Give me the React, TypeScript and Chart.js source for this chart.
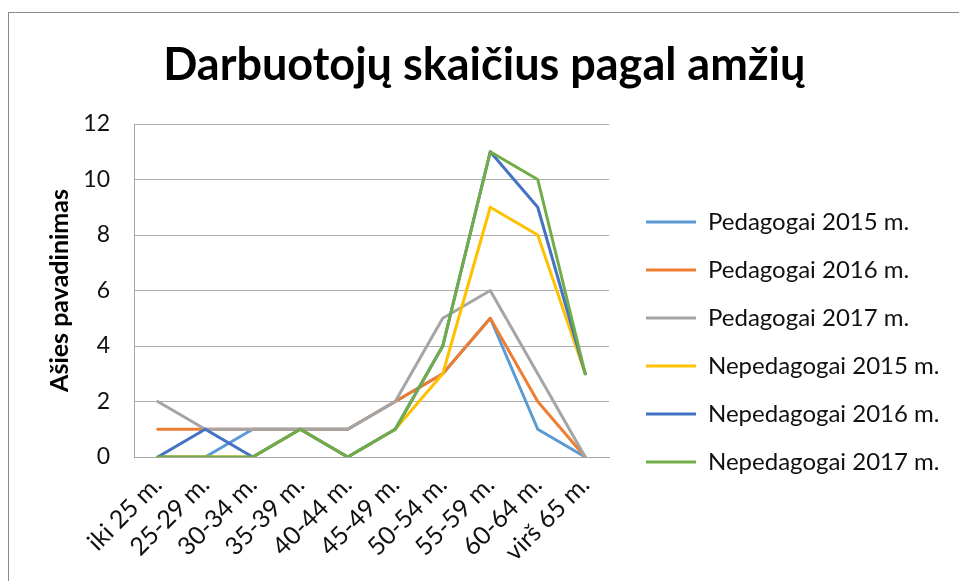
import React, { useEffect, useRef } from 'react';
import { Chart, registerables } from 'chart.js';

Chart.register(...registerables);

const categories = ['iki 25 m.', '25-29 m.', '30-34 m.', '35-39 m.', '40-44 m.', '45-49 m.', '50-54 m.', '55-59 m.', '60-64 m.', 'virš 65 m.'];
const seriesNames = ['Pedagogai 2015 m.', 'Pedagogai 2016 m.', 'Pedagogai 2017 m.', 'Nepedagogai 2015 m.', 'Nepedagogai 2016 m.', 'Nepedagogai 2017 m.'];
const pedagogai2015 = [0, 0, 1, 1, 1, 2, 3, 5, 1, 0];
const pedagogai2016 = [1, 1, 1, 1, 1, 2, 3, 5, 2, 0];
const pedagogai2017 = [2, 1, 1, 1, 1, 2, 5, 6, 3, 0];
const nepedagogai2015 = [0, 0, 0, 1, 0, 1, 3, 9, 8, 3];
const nepedagogai2016 = [0, 1, 0, 1, 0, 1, 4, 11, 9, 3];
const nepedagogai2017 = [0, 0, 0, 1, 0, 1, 4, 11, 10, 3];
const seriesColors = ['#5B9BD5', '#ED7D31', '#A5A5A5', '#FFC000', '#4472C4', '#70AD47'];
const yMin = 0;
const yMax = 12;
const yStep = 2;
const chartTitle = 'Darbuotojų skaičius pagal amžių';
const yAxisTitle = 'Ašies pavadinimas';

const W = 959;
const H = 581;
const FONT = 'Lato';
const LEGEND_SIZE = 24;
const TEXT_COLOR = '#111';

export default function App() {
  const ref = useRef<HTMLCanvasElement | null>(null);

  useEffect(() => {
    const canvas = ref.current;
    if (!canvas) return;
    const allSeries = [pedagogai2015, pedagogai2016, pedagogai2017, nepedagogai2015, nepedagogai2016, nepedagogai2017];

    const mctx = document.createElement('canvas').getContext('2d')!;
    mctx.font = `${LEGEND_SIZE}px ${FONT}`;
    const maxText = Math.max(...seriesNames.map((s) => mctx.measureText(s).width));
    const legendPad = 24;
    const boxW = 50;
    const legendWidth = legendPad + boxW + LEGEND_SIZE / 2 + maxText + 10;
    const spacer = 13;
    const plotRight = 609;
    const padRight = Math.max(0, W - plotRight - spacer - legendWidth);

    const chart = new Chart(canvas, {
      type: 'line',
      data: {
        labels: categories,
        datasets: allSeries.map((d, i) => ({
          label: seriesNames[i],
          data: d,
          borderColor: seriesColors[i],
          backgroundColor: seriesColors[i],
          borderWidth: 3,
          pointRadius: 0,
          pointHoverRadius: 0,
          tension: 0,
          fill: false,
          borderJoinStyle: 'round' as const,
          borderCapStyle: 'round' as const,
          order: allSeries.length - i,
          yAxisID: 'y',
        })),
      },
      options: {
        responsive: false,
        animation: false,
        layout: { padding: { left: 19, right: padRight, top: 0, bottom: 0 } },
        plugins: {
          title: {
            display: true,
            text: chartTitle,
            color: '#000',
            font: { family: FONT, size: 45, weight: 'bold' },
            padding: { top: 38, bottom: 32 },
          },
          legend: {
            position: 'right',
            align: 'start',
            maxWidth: 420,
            title: { display: true, text: '', font: { size: 10, lineHeight: 1 }, padding: { top: 176, bottom: 0 } },
            labels: {
              boxWidth: boxW,
              boxHeight: 3,
              padding: legendPad,
              color: TEXT_COLOR,
              font: { family: FONT, size: LEGEND_SIZE },
              sort: (a: any, b: any) => a.datasetIndex - b.datasetIndex,
              generateLabels: (c: any) =>
                c.data.datasets.map((ds: any, i: number) => ({
                  text: ds.label,
                  fillStyle: ds.borderColor,
                  strokeStyle: ds.borderColor,
                  fontColor: TEXT_COLOR,
                  lineWidth: 0,
                  hidden: false,
                  datasetIndex: i,
                })),
            },
          },
          tooltip: { enabled: false },
        },
        scales: {
          x: {
            type: 'category',
            offset: true,
            grid: { display: false, drawTicks: false },
            border: { display: true, color: '#a6a6a6', width: 1 },
            ticks: {
              autoSkip: false,
              minRotation: 45,
              maxRotation: 45,
              padding: 13,
              color: TEXT_COLOR,
              font: { family: FONT, size: 25 },
            },
            afterFit: (s: any) => {
              s.height = H - 457;
            },
          },
          y: {
            type: 'linear',
            position: 'left',
            min: yMin,
            max: yMax,
            grid: { color: '#adadad', lineWidth: 1, drawTicks: false },
            border: { display: true, color: '#a6a6a6', width: 1 },
            ticks: {
              stepSize: yStep,
              padding: 24,
              color: TEXT_COLOR,
              font: { family: FONT, size: 23 },
            },
            title: {
              display: true,
              text: yAxisTitle,
              color: '#000',
              font: { family: FONT, size: 25, weight: 'bold' },
              padding: { top: 26, bottom: 0 },
            },
            afterFit: (s: any) => {
              s.width = 134 - 19;
            },
          },
          spacer: {
            type: 'linear',
            position: 'right',
            display: true,
            grid: { display: false, drawTicks: false },
            border: { display: false },
            ticks: { display: false },
            afterFit: (s: any) => {
              s.width = spacer;
            },
          },
        },
      },
    });
    return () => chart.destroy();
  }, []);

  return (
    <div style={{ position: 'fixed', left: 0, top: 0, width: W, height: H, overflow: 'hidden', background: '#fff' }}>
      <div
        style={{
          position: 'absolute',
          left: 8,
          top: 12,
          width: 1200,
          height: 1000,
          border: '1px solid #8c8c8c',
          boxSizing: 'border-box',
        }}
      />
      <canvas ref={ref} width={W} height={H} style={{ position: 'absolute', left: 0, top: 0, width: W, height: H }} />
    </div>
  );
}
